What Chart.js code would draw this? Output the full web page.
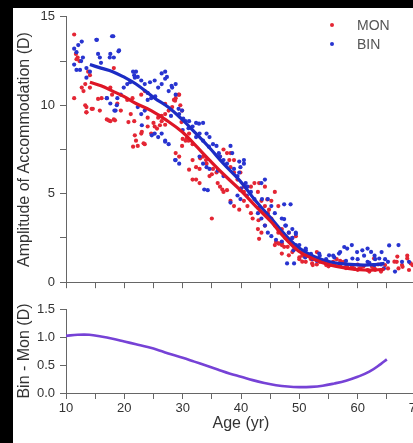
<!DOCTYPE html>
<html>
<head>
<meta charset="utf-8">
<script src="https://cdn.jsdelivr.net/npm/chart.js@4"></script>
<style>
  html, body { margin:0; padding:0; background:#000; overflow:hidden; width:413px; height:443px; }
  #sheet { position:absolute; left:13px; top:8px; width:420px; height:435px; background:#fff; }
  canvas { position:absolute; left:0; }
  #top { top:-4px; }
  #bottom { top:287px; }
  .leg { position:absolute; font:14px "Liberation Sans", Arial, sans-serif; color:#555; }
  .leg i { position:absolute; width:4px; height:4px; border-radius:50%; left:-27px; top:6px; }
</style>
</head>
<body>
<div id="sheet">
  <canvas id="top" width="420" height="291"></canvas>
  <canvas id="bottom" width="420" height="148"></canvas>
  <div id="legend"></div>
</div>
<script>
// MON scatter (age, amplitude)
const monAge = [11.4,11.7,12.0,12.3,11.4,13,13.5,13.5,14.6,15.8,16.1,17,17.6,18.2,18.2,13.8,14.1,18.8,19.4,17.6,17.9,
  21.1,21.7,22,22.3,22.9,23.5,20.5,21.4,22.9,23.5,24,24.6,25.2,25.8,26.4,27,27.6,28.2,28.5,28.8,29.4,29.9,29.6,
  28.8,29.4,29.9,30.5,31.1,31.7,31.7,32.3,32.9,33.5,34.1,32.3,32.9,34.6,35.2,35.8,36.4,37,37.6,36.4,37,37.6,
  38.2,38.8,39.4,39.9,40.5,38.2,38.8,40.5,41.1,41.7,41.7,42.3,42.9,43.5,44.1,44.1,42.9,43.5,44.1,44.6,45.2,45.8,46.4,
  45.2,45.8,46.4,47,45.8,46.4,47,47.6,48.2,48.8,49.4,48.8,50,50.5,51.1,52.3,53.5,54.6,55.8,57,58.2,59.4,60.5,61.7,
  62.9,64.1,64.7,65.2,51.8,53,66.7,67.6,68.5,69.4,67,68.8,39.9,40.5,56.4,57.6,38.2,38.8,
  33,34,35,36,31,30,27,26,24,25,42,43,47,48,49,50,52,53,54,55,56,58,59,60,61,62,63,64,63.5,62.5,60,57,
  31.7,31.1,36.8,38,43.1,44.5,44.8,39.7,35,43.1,46,47,48.2,50.5,52.2,55.1,58,60.3,62.5,62.8,66.3,67.7,68.5,69.1,66.8,46.5,47.4,
  13.3,13.5,14.4,15.5,17.3,18.4,20.7,21.8,23,21.5,23.3,25.6,26.1,26.4,28.7,29.3,27,29.8,30.7,13.3,14.1,12.7,11.8];
const monVal = [14.0,12.9,12.7,12.5,10.4,10.8,9.9,9.6,9.8,9.7,10.4,9.2,9.1,9.2,12.1,11.9,11.7,10.1,9.7,11.0,10.6,
  9.5,9.1,8.0,7.7,8.4,7.8,10.3,10.4,10.6,10.8,8.8,8.4,8.8,9.3,9.1,9.5,9.7,9.9,10.3,10.4,10.6,9.7,10.0,
  7.3,7.1,7.7,8.0,8.4,7.8,6.9,6.5,6.4,7.1,6.7,5.8,5.6,6.0,6.4,6.2,7.1,7.5,7.3,5.4,5.1,5.2,
  6.5,6.2,5.8,6.2,5.4,4.6,4.3,4.6,4.3,3.9,5.4,5.6,5.1,4.6,5.4,4.3,3.0,2.8,3.2,3.9,4.6,5.1,4.3,
  3.6,3.2,2.8,3.0,2.1,2.2,2.1,2.5,2.8,2.5,2.6,1.7,1.3,1.5,1.15,0.97,1.15,0.97,1.15,0.97,0.87,0.78,0.78,0.69,
  0.78,0.69,0.97,0.78,1.5,1.7,1.15,0.97,1.5,0.97,0.78,0.69,5.2,5.1,1.3,1.15,7.3,6.9,
  7.0,6.9,6.1,5.6,8.0,8.1,8.9,9.4,9.3,9.0,3.6,3.5,2.2,2.0,1.8,1.4,1.3,1.0,1.2,0.9,1.0,0.8,0.9,0.7,0.9,0.6,0.7,0.6,1.0,0.9,1.0,1.2,
  5.8,6.36,5.24,6.9,5.6,4.68,4.1,4.1,3.6,2.45,2.27,1.62,1.52,1.16,1.06,0.96,0.87,0.78,0.87,1.34,1.16,0.87,1.34,1.06,1.45,2.18,2.0,
  10.0,9.6,9.8,10.36,9.15,9.15,9.05,8.3,8.5,7.66,7.85,8.68,8.87,9.4,10.26,10.6,10.08,9.05,8.13,11.2,11.0,11.0,12.6];

// BIN scatter (age, amplitude)
const binAge = [11.4,11.8,12.1,11.4,11.8,12.6,12.9,13.5,14.1,15.2,15.5,15.8,17.9,17.6,18.2,19.1,17,17.6,18.5,18.8,19.4,
  19.9,20.5,21.7,22.3,22,22.9,23.5,22.3,22.9,23.5,24,24.6,25.2,25.8,26.4,27,27.3,25.2,25.8,26.4,27.6,28.2,28.8,28.8,
  27,27.6,29.4,29.9,30.5,28.8,29.4,31.1,31.7,32.3,32.3,32.9,33.5,33.5,34.1,32.9,33.5,34.1,34.6,35.2,35.8,34.6,34.3,
  36.4,37,37.6,38.2,38.5,38.8,39.4,39.9,40.5,40.5,39.4,39.9,41.1,41.7,42.3,43.5,44.1,42.9,43.5,44.1,44.6,45.2,45.8,
  44.6,45.2,46.4,47,47.6,48.5,48.2,48.8,49.4,49.1,50,50.5,51.1,51.7,52.3,53.5,54.6,55.8,57,58.2,59,59.9,61.1,
  61.7,62.9,64.1,64.7,65.2,67,67.6,68.8,66.4,62.9,61.7,
  36,37,40,41,43,46,47,49,51,52,53,55,56,58,60,62,63,64,30,31,28,24,21,16,
  32.8,34.5,36.2,39.7,39.7,33.7,38.2,40.8,43.6,47.4,47.7,49.4,47.4,48.8,49.4,47.9,57.7,56.8,60.8,62.3,65.4,64.5,63.7,53.4,55.1,59.1,52.2,51.1,
  12.7,15.3,18.1,19,17.5,21.5,21.8,24.4,26.4,27,28.1,25.3,17,18.7,18.3,23,24.7,27,28.7,30.1,29.3,12.4,13.5];
const binVal = [13.2,13.0,13.4,12.3,12.0,12.5,12.7,12.1,11.9,13.7,12.9,12.7,13.9,12.9,12.7,13.1,10.4,10.1,9.7,10.4,10.6,
  11.0,11.2,11.7,11.6,11.9,11.4,11.2,9.9,9.5,9.7,10.3,10.4,11.4,11.0,11.2,11.9,11.6,8.4,8.2,8.4,10.8,11.0,10.6,11.2,
  8.0,7.8,9.5,9.7,9.1,6.9,6.7,9.1,8.8,9.0,8.2,8.4,8.0,9.0,8.4,7.1,6.7,6.5,8.2,7.8,7.7,6.4,5.2,
  7.1,6.9,6.7,7.7,7.3,6.4,6.0,6.5,6.7,6.9,4.9,4.7,5.4,5.1,4.7,5.6,5.8,3.9,3.6,3.2,4.7,4.3,3.9,
  2.8,2.6,3.0,3.6,3.2,4.4,2.8,2.5,2.1,1.06,2.1,1.7,1.9,1.5,1.3,1.5,1.3,1.5,1.7,1.9,2.1,1.7,1.5,
  1.9,1.5,1.7,1.3,1.15,2.1,1.15,1.15,0.6,0.97,1.15,
  6.3,6.0,5.3,4.9,4.2,2.4,2.3,1.8,1.4,1.6,1.2,1.1,1.4,1.2,1.3,1.1,1.3,1.0,8.6,8.7,9.4,10.7,11.3,12.4,
  8.96,7.66,7.29,6.82,6.2,5.24,4.5,5.6,4.7,4.4,3.2,2.8,3.57,3.0,2.73,1.06,1.99,1.62,1.8,1.71,2.08,0.78,1.34,1.62,1.52,1.34,1.34,1.8,
  13.6,13.7,13.9,13.05,12.7,11.9,11.56,11.3,11.8,11.5,11.1,10.5,10.4,10.0,9.7,8.87,8.3,7.94,6.9,9.24,9.8,12.0,11.56];

// fitted curves
const monFitAge = [14.1,16,18,19.9,22,24.6,27,29.9,32,34.6,37,39.9,42.5,45.2,47.5,49.9,52.5,55.2,58,61.1,63,64.6];
const monFitVal = [11.3,11.1,10.8,10.5,10.1,9.7,9.2,8.5,7.8,6.9,6.1,5.2,4.3,3.4,2.5,1.75,1.3,0.98,0.8,0.69,0.69,0.74];
const binFitAge = [14.1,16,18,19.9,22,25.2,27.5,29.9,32,34.6,37,39.9,42.5,45.2,47.5,49.9,52.5,55.2,58,61.1,63,64.6];
const binFitVal = [12.3,12.1,11.9,11.6,11.2,10.4,9.9,9.2,8.5,7.6,6.7,5.7,4.6,3.6,2.7,1.95,1.45,1.15,1.02,0.97,1.0,1.06];

// difference curve (Bin - Mon)
const diffAge = [10,12,14,16,18,20,22,24,26,28,30,32,34,36,38,40,42,44,46,48,50,52,54,56,58,60,62,64,65];
const diffVal = [1.02,1.04,1.04,1.01,0.97,0.92,0.87,0.82,0.76,0.69,0.63,0.56,0.49,0.42,0.35,0.29,0.23,0.18,0.14,0.115,0.105,0.11,0.13,0.17,0.22,0.29,0.38,0.52,0.6];

const xMin = 10, xMax = 70;
const pts = (xs, ys) => xs.map((x, i) => ({x: x, y: ys[i]}));

const red = 'rgb(228,38,52)', blue = 'rgb(40,52,208)';
const font = "'Liberation Sans', Arial, sans-serif";
const axisColor = '#666', tickText = '#333';

function fixWidth(w){ return s => { s.width = w; }; }
function fixHeight(h){ return s => { s.height = h; }; }

const gridOpts = { drawOnChartArea:false, drawTicks:true, tickLength:6, tickColor:axisColor };
const borderOpts = { display:true, color:axisColor, width:1 };

new Chart(document.getElementById('top'), {
  type:'scatter',
  data:{ datasets:[
    { label:'MON fit', type:'line', data:pts(monFitAge, monFitVal), borderColor:'rgb(222,22,38)', borderWidth:3.2, pointRadius:0, tension:0.4, order:0 },
    { label:'BIN fit', type:'line', data:pts(binFitAge, binFitVal), borderColor:'rgb(28,44,196)', borderWidth:3.2, pointRadius:0, tension:0.4, order:1 },
    { label:'MON', data:pts(monAge, monVal), backgroundColor:red, borderWidth:0, pointRadius:2.1, order:3 },
    { label:'BIN', data:pts(binAge, binVal), backgroundColor:blue, borderWidth:0, pointRadius:2.1, order:2 }
  ]},
  options:{
    responsive:false, animation:false,
    layout:{ padding:{ left:0, right:17, top:0, bottom:0 } },
    plugins:{ legend:{display:false}, tooltip:{enabled:false} },
    scales:{
      x:{ type:'linear', min:xMin, max:xMax, grid:gridOpts, border:borderOpts,
          ticks:{ stepSize:5, callback:() => '' }, afterFit:fixHeight(11) },
      y:{ min:0, max:15, grid:gridOpts, border:borderOpts, afterFit:fixWidth(53),
          ticks:{ stepSize:2.5, padding:5, color:tickText, font:{family:font, size:13},
                  callback:v => v % 5 === 0 ? v : '' },
          title:{ display:true, text:'Amplitude of Accommodation (D)', color:'#333', font:{family:font, size:16}, padding:{top:2, bottom:0} } }
    }
  }
});

new Chart(document.getElementById('bottom'), {
  type:'line',
  data:{ datasets:[
    { label:'Bin - Mon', data:pts(diffAge, diffVal), borderColor:'rgb(118,66,214)', borderWidth:2.6, pointRadius:0, tension:0.4 }
  ]},
  options:{
    responsive:false, animation:false,
    layout:{ padding:{ left:0, right:17, top:14, bottom:0 } },
    plugins:{ legend:{display:false}, tooltip:{enabled:false} },
    scales:{
      x:{ type:'linear', min:xMin, max:xMax, grid:gridOpts, border:borderOpts, afterFit:fixHeight(50),
          ticks:{ stepSize:5, padding:2, maxRotation:0, color:tickText, font:{family:font, size:13},
                  callback:v => v % 10 === 0 ? v : '' },
          title:{ display:true, text:'Age (yr)', color:'#333', font:{family:font, size:16}, padding:{top:0, bottom:10} } },
      y:{ min:0, max:1.5, grid:gridOpts, border:borderOpts, afterFit:fixWidth(53),
          ticks:{ stepSize:0.25, padding:5, color:tickText, font:{family:font, size:13},
                  callback:v => Math.abs(v * 2 - Math.round(v * 2)) < 1e-6 ? v.toFixed(1) : '' },
          title:{ display:true, text:'Bin - Mon (D)', color:'#333', font:{family:font, size:16}, padding:{top:2, bottom:0} } }
    }
  }
});

// legend in the upper right of the top plot
const legendItems = [{label:'MON', color:red}, {label:'BIN', color:blue}];
const legEl = document.getElementById('legend');
legendItems.forEach((it, i) => {
  const d = document.createElement('div');
  d.className = 'leg';
  d.style.left = '344px';
  d.style.top = (9 + i * 19) + 'px';
  d.innerHTML = '<i style="background:' + it.color + '"></i>' + it.label;
  legEl.appendChild(d);
});
</script>
</body>
</html>
